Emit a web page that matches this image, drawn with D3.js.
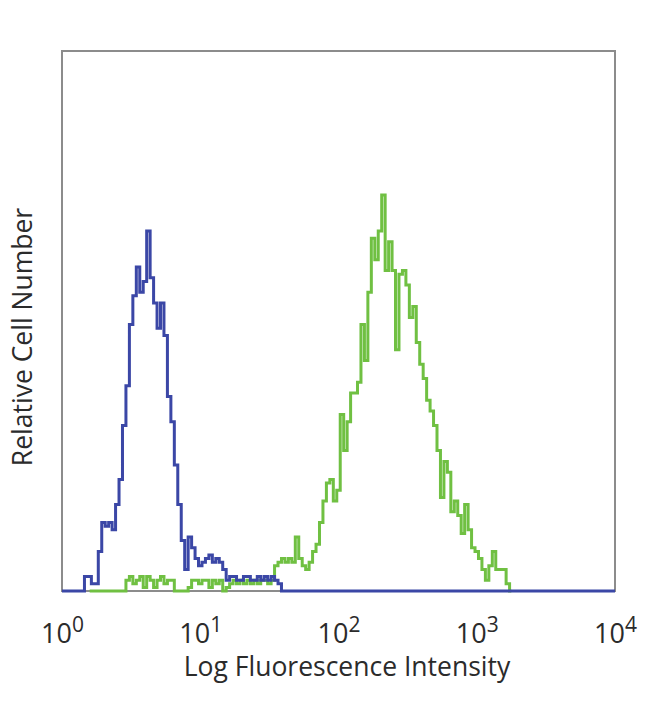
<!DOCTYPE html>
<html>
<head>
<meta charset="utf-8">
<script src="https://cdn.jsdelivr.net/npm/d3@7"></script>
<style>
  html, body { margin: 0; padding: 0; background: #ffffff; }
  svg { display: block; }
  text { font-family: "Open Sans", "DejaVu Sans", sans-serif; fill: #2b2b2b; }
</style>
</head>
<body>
<svg id="chart" width="650" height="704"></svg>
<script>
// ---- data ----
const xTickValues = [1, 10, 100, 1000, 10000];
const xTickExponents = ["0", "1", "2", "3", "4"];
const xTitle = "Log Fluorescence Intensity";
const yTitle = "Relative Cell Number";

// histogram bins: log10 channel centres start at firstBinLog, width binWidthLog
const binWidthLog = 0.025;
const blueFirstBinLog = 0.15;
const greenFirstBinLog = 0.20;

const blueCounts = [0, 4, 4, 2, 2, 11, 19, 18, 19, 17, 24, 31, 46, 57, 74, 82, 90, 83, 86, 100,
  87, 80, 73, 80, 71, 54, 47, 35, 24, 14, 6, 15, 12, 9, 7, 8, 9, 10, 8, 9,
  8, 6, 3, 4, 4, 3, 3, 4, 4, 3, 3, 4, 3, 4, 3, 4, 3, 2, 0];

const greenCounts = [0, 0, 0, 0, 0, 0, 0, 0, 0, 0, 0,
  3, 4, 2, 3, 4, 1, 4, 3, 1, 3, 4, 2, 3, 3, 0, 0, 0, 0, 1,
  3, 3, 2, 3, 3, 1, 3, 2, 3, 0, 1, 2, 3, 2, 3, 2, 3, 2, 3, 2,
  3, 3, 2, 3, 7, 8, 9, 8, 9, 8, 15, 9, 7, 6, 8, 11, 13, 19, 25, 30,
  31, 25, 28, 49, 39, 47, 55, 55, 58, 74, 64, 83, 98, 92, 100, 110, 89, 97, 89, 67,
  88, 89, 85, 76, 79, 69, 63, 59, 53, 50, 46, 39, 26, 36, 33, 22, 25, 21, 16, 24,
  17, 12, 11, 9, 6, 3, 7, 11, 6, 6, 6, 2, 0];

const yMax = 150;

// ---- layout ----
const svg = d3.select("#chart");
const plotLeft = 62, plotRight = 615, plotTop = 51, plotBottom = 591;

const x = d3.scaleLog().domain([1, 10000]).range([plotLeft, plotRight]);
const y = d3.scaleLinear().domain([0, yMax]).range([plotBottom, plotTop]);

function toPoints(counts, firstLog) {
  return counts.map((c, i) => ({ v: Math.pow(10, firstLog + i * binWidthLog), c: c }));
}
const bluePts = [{ v: 1, c: 0 }].concat(toPoints(blueCounts, blueFirstBinLog), [{ v: 10000, c: 0 }]);
const greenPts = toPoints(greenCounts, greenFirstBinLog);

const line = d3.line()
  .x(d => x(d.v))
  .y(d => y(d.c))
  .curve(d3.curveStep);

// soft edges like the reference image
const defs = svg.append("defs");
defs.append("filter").attr("id", "soft")
  .append("feGaussianBlur").attr("stdDeviation", 0.5);

// frame
svg.append("rect")
  .attr("x", plotLeft).attr("y", plotTop)
  .attr("width", plotRight - plotLeft).attr("height", plotBottom - plotTop)
  .attr("fill", "#ffffff")
  .attr("stroke", "#8c8c8c")
  .attr("stroke-width", 2);

// green histogram (below)
svg.append("path")
  .datum(greenPts)
  .attr("d", line)
  .attr("fill", "none")
  .attr("stroke", "#6fc043")
  .attr("stroke-width", 3)
  .attr("filter", "url(#soft)");

// blue histogram (on top)
svg.append("path")
  .datum(bluePts)
  .attr("d", line)
  .attr("fill", "none")
  .attr("stroke", "#3a46a6")
  .attr("stroke-width", 3)
  .attr("filter", "url(#soft)");

// x axis labels
const xAxis = d3.axisBottom(x).tickValues(xTickValues).tickSize(0).tickPadding(0).tickFormat(() => "");
const gx = svg.append("g").attr("transform", `translate(0,${plotBottom})`).call(xAxis);
gx.select(".domain").remove();
gx.selectAll(".tick text").remove();
gx.selectAll(".tick").each(function(d, i) {
  const t = d3.select(this).append("text")
    .attr("y", 52)
    .attr("text-anchor", "middle")
    .style("font-size", "27px");
  t.append("tspan").text("10");
  t.append("tspan").attr("dy", -11).style("font-size", "21px").text(xTickExponents[i]);
});

// axis titles
svg.append("text")
  .attr("x", 347)
  .attr("y", 676)
  .attr("text-anchor", "middle")
  .style("font-size", "26.5px")
  .text(xTitle);

svg.append("text")
  .attr("transform", "translate(32,337) rotate(-90)")
  .attr("text-anchor", "middle")
  .style("font-size", "26.5px")
  .text(yTitle);
</script>
</body>
</html>
